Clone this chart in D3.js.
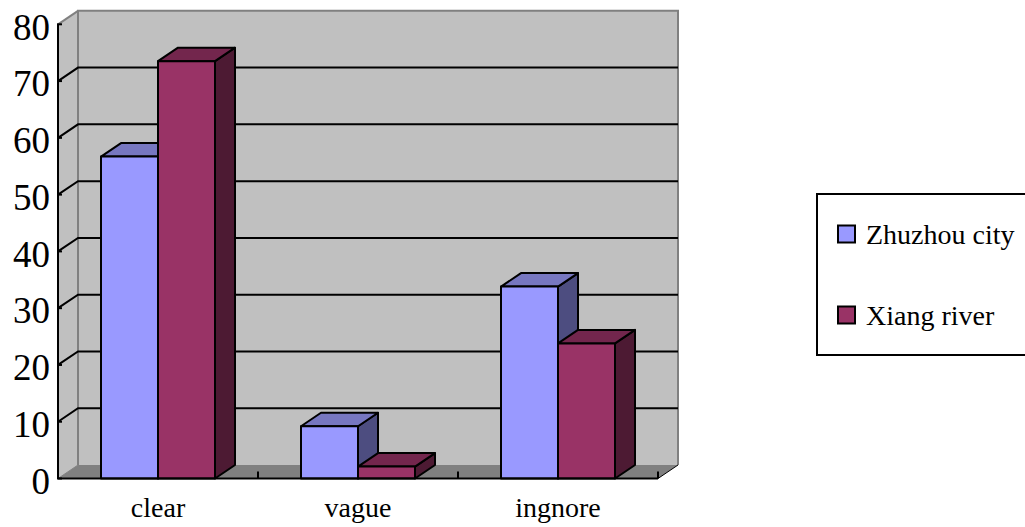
<!DOCTYPE html>
<html><head><meta charset="utf-8">
<script src="https://cdn.jsdelivr.net/npm/d3@7"></script>
<style>
html,body{margin:0;padding:0;background:#fff;}
svg text{font-family:"Liberation Serif","DejaVu Serif",serif !important;fill:#000;}
</style></head>
<body><svg id="c" width="1025" height="527"></svg>
<script>
const categories = ["clear", "vague", "ingnore"];
const seriesNames = ["Zhuzhou city", "Xiang river"];
const zhuzhouValues = [56.7, 9.2, 33.8];
const xiangValues = [73.5, 2.1, 23.8];
const yTicks = [0, 10, 20, 30, 40, 50, 60, 70, 80];

const colors = {
  "Zhuzhou city": {front: "#9999FF", top: "#7777C0", side: "#4D4D80"},
  "Xiang river": {front: "#993366", top: "#73264D", side: "#4D1A33"}
};
const FONT = '"Liberation Serif","DejaVu Serif",serif';

const svg = d3.select("#c");
const dx = 20, dy = -13.5;
const x0 = 58, x1 = 658;
const y = d3.scaleLinear().domain([0, 80]).range([478.5, 24.3]);
const x = d3.scaleBand().domain(categories).range([x0, x1]).paddingInner(0.43).paddingOuter(0.215);
const xs = d3.scaleBand().domain(seriesNames).range([0, x.bandwidth()]);
const xc = d3.scaleBand().domain(categories).range([x0, x1]);

const y0 = y(0), yTop = y(80);

svg.append("rect").attr("x", x0 + dx).attr("y", yTop + dy)
  .attr("width", x1 - x0).attr("height", y0 - yTop).attr("fill", "#C0C0C0");
svg.append("polygon").attr("points", [[x0, y0], [x0, yTop], [x0 + dx, yTop + dy], [x0 + dx, y0 + dy]].join(" "))
  .attr("fill", "#C0C0C0");
svg.append("polygon").attr("points", [[x0, y0], [x1, y0], [x1 + dx, y0 + dy], [x0 + dx, y0 + dy]].join(" "))
  .attr("fill", "#808080");
svg.append("path").attr("d", `M${x0 + dx},${y0 + dy}V${yTop + dy}H${x1 + dx}V${y0 + dy}`)
  .attr("fill", "none").attr("stroke", "#808080").attr("stroke-width", 2);
svg.append("line").attr("x1", x0).attr("y1", yTop).attr("x2", x0 + dx).attr("y2", yTop + dy)
  .attr("stroke", "#808080").attr("stroke-width", 2);
svg.append("line").attr("x1", x0).attr("y1", y0).attr("x2", x0 + dx).attr("y2", y0 + dy)
  .attr("stroke", "#808080").attr("stroke-width", 1);

const inner = yTicks.filter(t => t > 0 && t < 80);
svg.selectAll(".grid").data(inner).join("path").attr("class", "grid")
  .attr("d", t => `M${x0},${y(t)}L${x0 + dx},${y(t) + dy}H${x1 + dx}`)
  .attr("fill", "none").attr("stroke", "#000").attr("stroke-width", 2);

svg.append("line").attr("x1", x0).attr("y1", yTop).attr("x2", x0).attr("y2", y0)
  .attr("stroke", "#000").attr("stroke-width", 2);
svg.selectAll(".tk").data(yTicks).join("line").attr("class", "tk")
  .attr("x1", x0 - 1).attr("x2", x0 + 4).attr("y1", t => y(t)).attr("y2", t => y(t))
  .attr("stroke", "#000").attr("stroke-width", 2);

const yAxis = svg.append("g").attr("transform", `translate(${x0},0)`)
  .call(d3.axisLeft(y).tickValues(yTicks).tickSize(0).tickPadding(8).tickFormat(d3.format("d")));
yAxis.attr("font-family", FONT);
yAxis.select(".domain").remove();
yAxis.selectAll("text").attr("font-size", 37).attr("dy", "0.4em").attr("fill", "#000");

const data = [];
categories.forEach((c, i) => {
  data.push({c, s: seriesNames[0], v: zhuzhouValues[i]});
  data.push({c, s: seriesNames[1], v: xiangValues[i]});
});
const bars = svg.selectAll(".bar").data(data).join("g").attr("class", "bar");
bars.each(function(d) {
  const g = d3.select(this);
  const bx = x(d.c) + xs(d.s), w = xs.bandwidth(), yv = y(d.v);
  const col = colors[d.s];
  const st = {stroke: "#000", "stroke-width": 2, "stroke-linejoin": "round"};
  const side = g.append("polygon").attr("points", [[bx + w, yv], [bx + w + dx, yv + dy], [bx + w + dx, y0 + dy], [bx + w, y0]].join(" ")).attr("fill", col.side);
  const top = g.append("polygon").attr("points", [[bx, yv], [bx + dx, yv + dy], [bx + w + dx, yv + dy], [bx + w, yv]].join(" ")).attr("fill", col.top);
  const front = g.append("rect").attr("x", bx).attr("y", yv).attr("width", w).attr("height", y0 - yv).attr("fill", col.front);
  [side, top, front].forEach(el => Object.entries(st).forEach(([k, v]) => el.attr(k, v)));
});

svg.append("line").attr("x1", x0).attr("y1", y0).attr("x2", x1).attr("y2", y0)
  .attr("stroke", "#000").attr("stroke-width", 2);
svg.append("line").attr("x1", x1).attr("y1", y0).attr("x2", x1 + dx).attr("y2", y0 + dy)
  .attr("stroke", "#000").attr("stroke-width", 1);
const catTicks = categories.slice(1).map(c => xc(c)).concat([x1]);
svg.selectAll(".ct").data(catTicks).join("line").attr("class", "ct")
  .attr("x1", d => d).attr("x2", d => d).attr("y1", y0).attr("y2", y0 - 7)
  .attr("stroke", "#000").attr("stroke-width", 2);

const xAxis = svg.append("g").attr("transform", `translate(0,${y0})`)
  .call(d3.axisBottom(xc).tickSize(0).tickPadding(0));
xAxis.attr("font-family", FONT);
xAxis.select(".domain").remove();
xAxis.selectAll("text").attr("font-size", 28).attr("y", 38).attr("dy", 0).attr("fill", "#000");

const lg = svg.append("g").attr("font-family", FONT);
lg.append("rect").attr("x", 817).attr("y", 194).attr("width", 230).attr("height", 161)
  .attr("fill", "#fff").attr("stroke", "#000").attr("stroke-width", 2);
const li = lg.selectAll(".li").data(seriesNames).join("g").attr("class", "li")
  .attr("transform", (d, i) => `translate(0,${i * 81})`);
li.append("rect").attr("x", 838).attr("y", 225.5).attr("width", 17).attr("height", 17)
  .attr("fill", d => colors[d].front).attr("stroke", "#000").attr("stroke-width", 2);
li.append("text").attr("x", 866).attr("y", 244).attr("font-size", 28).text(d => d);
</script></body></html>
